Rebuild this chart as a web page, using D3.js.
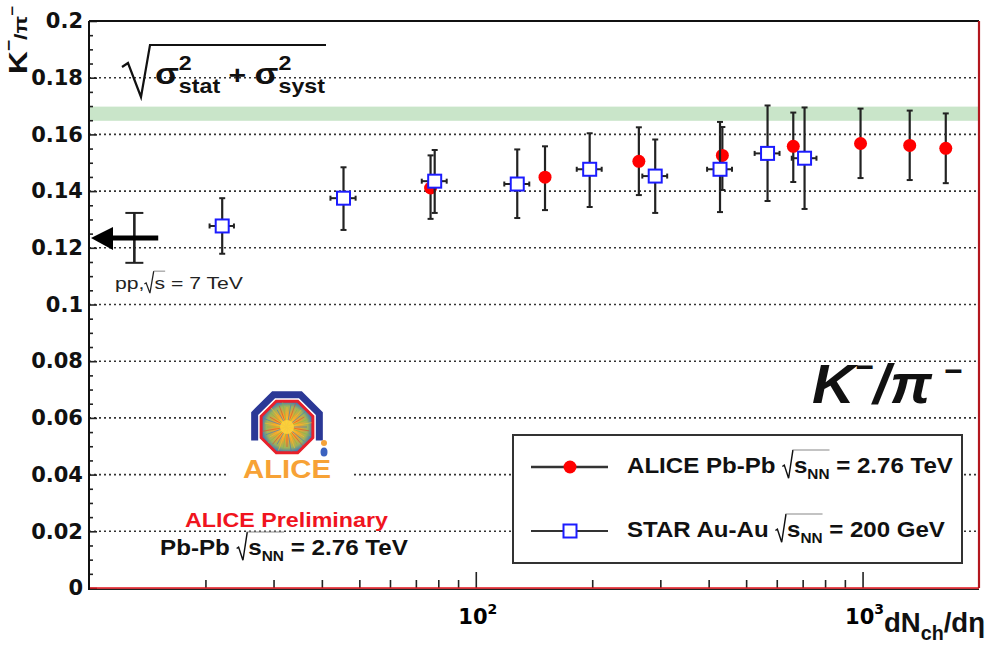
<!DOCTYPE html>
<html>
<head>
<meta charset="utf-8">
<script src="https://cdn.jsdelivr.net/npm/d3@7"></script>
<style>
  body { margin: 0; background: #fff; }
  svg { display: block; }
  svg text { white-space: pre; }
</style>
</head>
<body>
<svg id="chart" width="986" height="645"></svg>
<script>
// K-/pi- ratio versus charged-particle multiplicity density

// ALICE Pb-Pb at sqrt(sNN) = 2.76 TeV
const aliceDndeta = [76.4, 151, 264, 434, 662, 988, 1324, 1641];
const aliceRatio  = [0.1411, 0.1449, 0.1505, 0.1526, 0.1558, 0.1568, 0.1561, 0.1551];
const aliceLow    = [0.1302, 0.1333, 0.1386, 0.1404, 0.1432, 0.1446, 0.1439, 0.1428];
const aliceHigh   = [0.1526, 0.1558, 0.1625, 0.1626, 0.1677, 0.1691, 0.1684, 0.1674];

// STAR Au-Au at sqrt(sNN) = 200 GeV
const starDndeta    = [22.1, 45.5, 78.3, 128, 197, 291, 428, 568, 708];
const starDndetaErr = [1.6, 3.4, 5.8, 9.5, 14.6, 21.5, 31.7, 42, 52];
const starRatio     = [0.1277, 0.1375, 0.1435, 0.1425, 0.1477, 0.1453, 0.1477, 0.1533, 0.1516];
const starLow       = [0.1179, 0.1263, 0.1323, 0.1305, 0.1344, 0.1323, 0.1326, 0.1365, 0.1337];
const starHigh      = [0.1375, 0.1484, 0.1545, 0.1547, 0.1604, 0.1582, 0.1644, 0.1702, 0.1695];

// pp at sqrt(s) = 7 TeV reference
const ppDndeta = 13.1;
const ppArrowTail = 15.1;
const ppRatio = 0.1235;
const ppLow = 0.1147;
const ppHigh = 0.1323;

// horizontal band
const bandLow = 0.1648;
const bandHigh = 0.1698;

// axes
const xDomain = [10, 2000];
const yDomain = [0, 0.2];
const yMajorTicks = [0, 0.02, 0.04, 0.06, 0.08, 0.1, 0.12, 0.14, 0.16, 0.18, 0.2];
const yMinorTicks = d3.range(0, 41).map(i => i * 0.005).filter(v => Math.abs(Math.round(v / 0.02) * 0.02 - v) > 1e-6);
const yTickLabels = ["0", "0.02", "0.04", "0.06", "0.08", "0.1", "0.12", "0.14", "0.16", "0.18", "0.2"];
const xMajorTicks = [100, 1000];
const xMajorExponents = ["2", "3"];
const xMinorTicks = [20, 30, 40, 50, 60, 70, 80, 90, 200, 300, 400, 500, 600, 700, 800, 900];

const legendLabels = [
  ["ALICE Pb-Pb ", " = 2.76 TeV"],
  ["STAR Au-Au ", " = 200 GeV"]
];

const svg = d3.select("#chart");
const SANS = "'Liberation Sans', Arial, Helvetica, sans-serif";
const DEJAVU = "'DejaVu Sans', sans-serif";

const x = d3.scaleLog().domain(xDomain).range([89, 979]);
const y = d3.scaleLinear().domain(yDomain).range([588, 21]);

// Rich text: sequential pieces with super/subscripts and radicals
function richText(parent, parts, opts) {
  const g = parent.append("g");
  const base = opts.size;
  const family = opts.family || SANS;
  let cx = 0, rootStart = 0, rootTop = 0;
  const put = (txt, size, dy) => {
    const t = g.append("text")
      .attr("x", cx).attr("y", dy || 0)
      .attr("xml:space", "preserve")
      .attr("font-family", family)
      .attr("font-size", size)
      .attr("font-weight", opts.weight || "bold")
      .attr("font-style", opts.italic ? "italic" : "normal")
      .attr("fill", opts.color || "#000")
      .text(txt);
    return t.node().getComputedTextLength();
  };
  parts.forEach(p => {
    if (p.root === "start") {
      const h = base * 1.05;
      g.append("path")
        .attr("d", `M${cx},${-h * 0.28} L${cx + base * 0.08},${-h * 0.34} L${cx + base * 0.26},${base * 0.24} L${cx + base * 0.44},${-h}`)
        .attr("fill", "none").attr("stroke", opts.color || "#000")
        .attr("stroke-width", base * 0.06).attr("stroke-linejoin", "miter");
      rootStart = cx + base * 0.44;
      rootTop = -h;
      cx += base * 0.48;
    } else if (p.root === "end") {
      g.append("line")
        .attr("x1", rootStart).attr("x2", cx)
        .attr("y1", rootTop).attr("y2", rootTop)
        .attr("stroke", "#888").attr("stroke-width", 1);
    } else if (p.sup !== undefined || p.sub !== undefined) {
      const w1 = p.sup !== undefined ? put(p.sup, p.size, p.supDy) : 0;
      const w2 = p.sub !== undefined ? put(p.sub, p.size, p.subDy) : 0;
      cx += Math.max(w1, w2);
    } else {
      cx += put(p.t, p.size || base, p.dy || 0);
    }
  });
  const w = cx;
  const sx = opts.width ? opts.width / w : 1;
  let x0 = opts.x;
  if (opts.anchor === "middle") x0 = opts.x - w * sx / 2;
  if (opts.anchor === "end") x0 = opts.x - w * sx;
  g.attr("transform", `translate(${x0},${opts.y})${opts.rotate ? ` rotate(${opts.rotate})` : ""} scale(${sx},1)`);
  return g;
}

// band
svg.append("rect")
  .attr("x", x(xDomain[0])).attr("width", x(xDomain[1]) - x(xDomain[0]))
  .attr("y", y(bandHigh)).attr("height", y(bandLow) - y(bandHigh))
  .attr("fill", "#c9e5c9");

// dotted horizontal grid
svg.append("g").selectAll("line")
  .data(yMajorTicks.filter(v => v > 0 && v < 0.2))
  .join("line")
  .attr("x1", x(xDomain[0])).attr("x2", x(xDomain[1]))
  .attr("y1", d => y(d)).attr("y2", d => y(d))
  .attr("stroke", "#333").attr("stroke-width", 1.6)
  .attr("stroke-dasharray", "2,3");

// ALICE logo (background patch hides grid)
const logo = svg.append("g");
logo.append("rect").attr("x", 228).attr("y", 386).attr("width", 125).attr("height", 112).attr("fill", "#fff");
const defs = svg.append("defs");
const rg = defs.append("radialGradient").attr("id", "burst");
rg.append("stop").attr("offset", "0%").attr("stop-color", "#ffe23a");
rg.append("stop").attr("offset", "45%").attr("stop-color", "#f8a12a");
rg.append("stop").attr("offset", "80%").attr("stop-color", "#9fb25a");
rg.append("stop").attr("offset", "100%").attr("stop-color", "#3f78b8");
const lc = [287, 427];
const octagon = r => d3.range(8).map(k => {
  const a = (22.5 + 45 * k) * Math.PI / 180;
  return [lc[0] + r * Math.cos(a), lc[1] + r * Math.sin(a)];
});
const outer = octagon(35);
// right side, top and left side of the outer ring
const blueArc = [outer[0], outer[7], outer[6], outer[5], outer[4], outer[3]];
logo.append("path")
  .attr("d", d3.line()(blueArc))
  .attr("fill", "none").attr("stroke", "#2b3896").attr("stroke-width", 7).attr("stroke-linejoin", "miter");
logo.append("path")
  .attr("d", d3.line()(octagon(28)) + "Z")
  .attr("fill", "url(#burst)").attr("stroke", "#e8202a").attr("stroke-width", 3);
const rays = logo.append("g");
d3.range(36).forEach(i => {
  const a = i * 10 * Math.PI / 180;
  const r = 20 + (i % 3) * 2.5;
  rays.append("line")
    .attr("x1", lc[0]).attr("y1", lc[1])
    .attr("x2", lc[0] + r * Math.cos(a)).attr("y2", lc[1] + r * Math.sin(a))
    .attr("stroke", i % 4 === 0 ? "#3d7fc0" : (i % 4 === 1 ? "#e24a2a" : (i % 4 === 2 ? "#7fbf4a" : "#f5c22a")))
    .attr("stroke-width", 0.8).attr("opacity", 0.8);
});
logo.append("circle").attr("cx", lc[0]).attr("cy", lc[1]).attr("r", 7).attr("fill", "#ffd23a").attr("opacity", 0.9);
logo.append("circle").attr("cx", 324).attr("cy", 443).attr("r", 3).attr("fill", "#f4a23a");
logo.append("ellipse").attr("cx", 324).attr("cy", 452).attr("rx", 3.5).attr("ry", 4.5).attr("fill", "#3a62c0");
richText(logo, [{ t: "ALICE" }], { x: 243, y: 478, size: 25, width: 88, color: "#f7a236" });

// y axis
const yAxisMinor = d3.axisLeft(y).tickValues(yMinorTicks).tickSize(-4).tickFormat("");
const yAxisMajor = d3.axisLeft(y).tickValues(yMajorTicks).tickSize(-8).tickPadding(6)
  .tickFormat((d, i) => yTickLabels[i]);
const gyMinor = svg.append("g").attr("transform", `translate(${x(xDomain[0])},0)`).call(yAxisMinor);
const gy = svg.append("g").attr("transform", `translate(${x(xDomain[0])},0)`).call(yAxisMajor);
[gyMinor, gy].forEach(g => {
  g.select(".domain").remove();
  g.selectAll(".tick line").attr("stroke", "#222").attr("stroke-width", 1.6);
});
gy.selectAll(".tick text")
  .attr("font-family", DEJAVU).attr("font-weight", "bold").attr("font-size", 21).attr("fill", "#111");

// x axis
const xAxisMinor = d3.axisBottom(x).tickValues(xMinorTicks).tickSize(-8).tickFormat("");
const xAxisMajor = d3.axisBottom(x).tickValues(xMajorTicks).tickSize(-16).tickFormat("");
[xAxisMinor, xAxisMajor].forEach(ax => {
  const g = svg.append("g").attr("transform", `translate(0,${y(0)})`).call(ax);
  g.select(".domain").remove();
  g.selectAll(".tick line").attr("stroke", "#222").attr("stroke-width", 1.6);
});
xMajorTicks.forEach((v, i) => {
  richText(svg, [{ t: "10", size: 21 }, { t: xMajorExponents[i], size: 14, dy: -10 }],
    { x: x(v) + 2, y: 624, size: 21, family: DEJAVU, anchor: "middle" });
});

// frame
svg.append("line").attr("x1", x(xDomain[0])).attr("x2", x(xDomain[1])).attr("y1", y(0.2)).attr("y2", y(0.2))
  .attr("stroke", "#111").attr("stroke-width", 2);
svg.append("line").attr("x1", x(xDomain[0])).attr("x2", x(xDomain[1])).attr("y1", y(0) + 1.2).attr("y2", y(0) + 1.2)
  .attr("stroke", "#222").attr("stroke-width", 1.4);
svg.append("line").attr("x1", x(xDomain[0])).attr("x2", x(xDomain[1])).attr("y1", y(0)).attr("y2", y(0))
  .attr("stroke", "#e3121b").attr("stroke-width", 1.6);
svg.append("line").attr("x1", x(xDomain[1])).attr("x2", x(xDomain[1])).attr("y1", y(0.2)).attr("y2", y(0))
  .attr("stroke", "#b3161e").attr("stroke-width", 2.2);
svg.append("line").attr("x1", x(xDomain[0])).attr("x2", x(xDomain[0])).attr("y1", y(0.2)).attr("y2", y(0) + 2)
  .attr("stroke", "#111").attr("stroke-width", 2);

// error bars helper
function vErr(g, xv, lo, hi, w, cap) {
  const c = cap || 3;
  g.append("line").attr("x1", x(xv)).attr("x2", x(xv)).attr("y1", y(lo)).attr("y2", y(hi))
    .attr("stroke", "#222").attr("stroke-width", w || 2.2);
  [lo, hi].forEach(v => g.append("line")
    .attr("x1", x(xv) - c).attr("x2", x(xv) + c).attr("y1", y(v)).attr("y2", y(v))
    .attr("stroke", "#222").attr("stroke-width", 2));
}

// pp reference: arrow and error bar
const pp = svg.append("g");
vErr(pp, ppDndeta, ppLow, ppHigh, 2.6, 9);
pp.append("line")
  .attr("x1", x(xDomain[0]) + 20).attr("x2", x(ppArrowTail))
  .attr("y1", y(ppRatio)).attr("y2", y(ppRatio))
  .attr("stroke", "#000").attr("stroke-width", 5);
pp.append("path")
  .attr("d", `M${x(xDomain[0]) + 2},${y(ppRatio)} L${x(xDomain[0]) + 24},${y(ppRatio) - 11} L${x(xDomain[0]) + 24},${y(ppRatio) + 12} Z`)
  .attr("fill", "#000");
richText(svg, [{ t: "pp," }, { root: "start" }, { t: "s" }, { root: "end" }, { t: " = 7 TeV" }],
  { x: 115, y: 289, size: 17, weight: "normal", color: "#222", width: 128 });

// ALICE points
const ga = svg.append("g");
aliceDndeta.forEach((v, i) => vErr(ga, v, aliceLow[i], aliceHigh[i]));
ga.selectAll("circle.pt").data(aliceDndeta).join("circle")
  .attr("class", "pt")
  .attr("cx", d => x(d)).attr("cy", (d, i) => y(aliceRatio[i]))
  .attr("r", 6.5).attr("fill", "#ff0000");

// STAR points
const gs = svg.append("g");
starDndeta.forEach((v, i) => {
  vErr(gs, v, starLow[i], starHigh[i]);
  const yy = y(starRatio[i]);
  const x1 = x(v - starDndetaErr[i]), x2 = x(v + starDndetaErr[i]);
  gs.append("line").attr("x1", x1).attr("x2", x2).attr("y1", yy).attr("y2", yy)
    .attr("stroke", "#222").attr("stroke-width", 2);
  [x1, x2].forEach(xx => gs.append("line").attr("x1", xx).attr("x2", xx).attr("y1", yy - 2.5).attr("y2", yy + 2.5)
    .attr("stroke", "#222").attr("stroke-width", 2));
});
gs.selectAll("rect.pt").data(starDndeta).join("rect")
  .attr("class", "pt")
  .attr("x", d => x(d) - 6.5).attr("y", (d, i) => y(starRatio[i]) - 6.5)
  .attr("width", 13).attr("height", 13)
  .attr("fill", "#fff").attr("stroke", "#1c1cff").attr("stroke-width", 2);

// legend
const lg = svg.append("g");
lg.append("rect").attr("x", 513).attr("y", 435).attr("width", 449).attr("height", 128)
  .attr("fill", "#fff").attr("stroke", "#333").attr("stroke-width", 2);
const legendRows = [467, 531];
legendRows.forEach((ly, i) => {
  lg.append("line").attr("x1", 531).attr("x2", 608).attr("y1", ly).attr("y2", ly)
    .attr("stroke", "#333").attr("stroke-width", i === 0 ? 2.6 : 2);
});
lg.append("circle").attr("cx", 570).attr("cy", legendRows[0]).attr("r", 6.5).attr("fill", "#ff0000");
lg.append("rect").attr("x", 563.5).attr("y", legendRows[1] - 6.5).attr("width", 13).attr("height", 13)
  .attr("fill", "#fff").attr("stroke", "#1c1cff").attr("stroke-width", 2);
const legendWidths = [326, 318];
legendLabels.forEach((lab, i) => {
  richText(lg, [{ t: lab[0] }, { root: "start" }, { t: "s" }, { t: "NN", size: 14, dy: 6 }, { root: "end" }, { t: lab[1] }],
    { x: 627, y: legendRows[i] + 6, size: 22, width: legendWidths[i], color: "#111" });
});

// annotations
richText(svg, [{ t: "ALICE Preliminary" }], { x: 185, y: 527, size: 20, width: 203, color: "#f0141e" });
richText(svg, [{ t: "Pb-Pb " }, { root: "start" }, { t: "s" }, { t: "NN", size: 14, dy: 6 }, { root: "end" }, { t: " = 2.76 TeV" }],
  { x: 160, y: 555, size: 22, width: 248, color: "#111" });

// uncertainty label
svg.append("path")
  .attr("d", "M122,67 L128,63 L141,97 L150,45 L326,45")
  .attr("fill", "none").attr("stroke", "#111").attr("stroke-width", 2.2);
richText(svg, [
  { t: "σ", size: 30 }, { sup: "2", sub: "stat", size: 20, supDy: -14, subDy: 9 },
  { t: " + ", size: 26 },
  { t: "σ", size: 30 }, { sup: "2", sub: "syst", size: 20, supDy: -14, subDy: 9 }
], { x: 155, y: 84, size: 28, width: 170, color: "#111" });

// big title
richText(svg, [
  { t: "K", size: 56 }, { sup: "−", size: 30, supDy: -26 },
  { t: "/π", size: 56 }, { t: "  ", size: 20 }, { sup: "−", size: 30, supDy: -22 }
], { x: 812, y: 403, size: 56, italic: true, width: 150, color: "#111" });

// axis titles
richText(svg, [
  { t: "K", size: 26 }, { sup: "−", size: 16, supDy: -13 },
  { t: "/π", size: 19 }, { sup: "−", size: 14, supDy: -10 }
], { x: 27, y: 74, size: 26, rotate: -90, width: 68, color: "#111" });
richText(svg, [{ t: "dN", size: 28 }, { t: "ch", size: 20, dy: 8 }, { t: "/dη", size: 28 }],
  { x: 884, y: 632, size: 28, width: 101, color: "#111" });
</script>
</body>
</html>
